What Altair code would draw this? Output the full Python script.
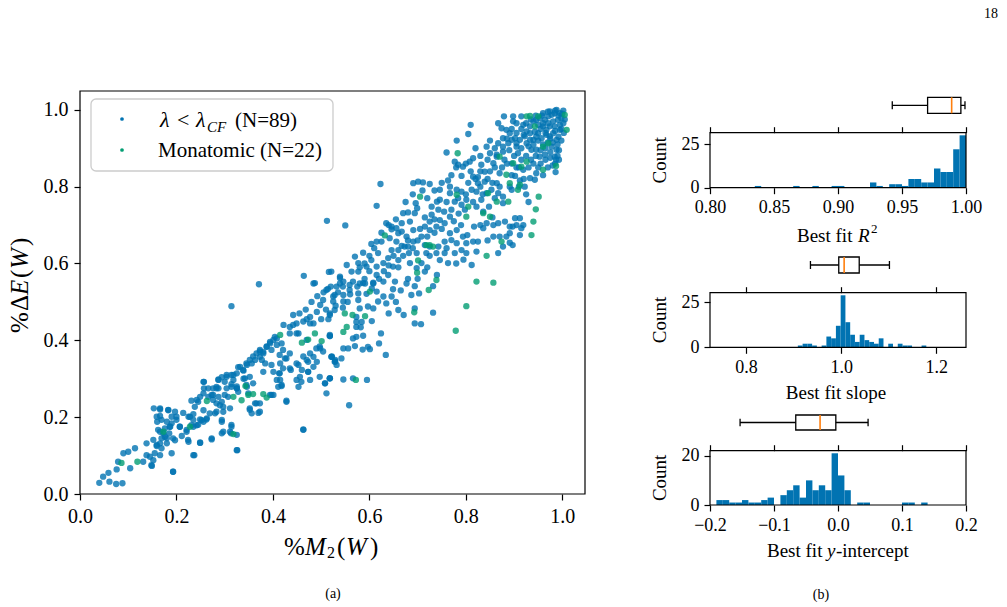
import altair as alt
import pandas as pd

W, H = 1007, 607
FONT = "Liberation Serif"
BLUE = "#0173b2"
GREEN = "#029e73"
ORANGE = "#ff7f0e"

# ---------------------------------------------------------------------------
# Scatter: (%M2(W), %dE(W)) for every window
# ---------------------------------------------------------------------------
blue_points = [
    (0.040, 0.029), (0.048, 0.045), (0.059, 0.055), (0.061, 0.032), (0.075, 0.026), (0.088, 0.028),
    (0.076, 0.064), (0.079, 0.084), (0.090, 0.106), (0.104, 0.067), (0.100, 0.110), (0.131, 0.084),
    (0.138, 0.101), (0.149, 0.073), (0.145, 0.097), (0.155, 0.106), (0.159, 0.125), (0.166, 0.132),
    (0.169, 0.145), (0.180, 0.145), (0.185, 0.158), (0.166, 0.162), (0.176, 0.171), (0.187, 0.175),
    (0.193, 0.058), (0.138, 0.132), (0.114, 0.119), (0.153, 0.223), (0.166, 0.223), (0.183, 0.218),
    (0.166, 0.203), (0.160, 0.188), (0.190, 0.201), (0.200, 0.201), (0.207, 0.175), (0.197, 0.140),
    (0.214, 0.211), (0.225, 0.201), (0.238, 0.227), (0.235, 0.208), (0.221, 0.162), (0.225, 0.136),
    (0.237, 0.101), (0.249, 0.133), (0.231, 0.179), (0.242, 0.179), (0.252, 0.192), (0.263, 0.197),
    (0.273, 0.142), (0.256, 0.218), (0.245, 0.240), (0.231, 0.243), (0.249, 0.253), (0.257, 0.275),
    (0.257, 0.292), (0.276, 0.258), (0.287, 0.298), (0.287, 0.275), (0.290, 0.231), (0.280, 0.210),
    (0.297, 0.227), (0.307, 0.253), (0.304, 0.275), (0.314, 0.286), (0.325, 0.275), (0.318, 0.310),
    (0.328, 0.330), (0.339, 0.321), (0.342, 0.301), (0.346, 0.336), (0.356, 0.340), (0.363, 0.349),
    (0.373, 0.357), (0.380, 0.370), (0.387, 0.383), (0.394, 0.396), (0.404, 0.409), (0.377, 0.349),
    (0.384, 0.340), (0.373, 0.375), (0.397, 0.375), (0.408, 0.388), (0.422, 0.440), (0.435, 0.435),
    (0.442, 0.466), (0.453, 0.418), (0.498, 0.379), (0.518, 0.411), (0.484, 0.444), (0.477, 0.461),
    (0.491, 0.474), (0.498, 0.492), (0.504, 0.505), (0.518, 0.470), (0.515, 0.455), (0.484, 0.548),
    (0.511, 0.531), (0.525, 0.514), (0.314, 0.489), (0.371, 0.546),
    (0.276, 0.275), (0.283, 0.279), (0.294, 0.304), (0.304, 0.305), (0.318, 0.297), (0.325, 0.280),
    (0.339, 0.300), (0.346, 0.279), (0.349, 0.262), (0.352, 0.223), (0.356, 0.210), (0.370, 0.211),
    (0.363, 0.236), (0.373, 0.236), (0.397, 0.258), (0.397, 0.336), (0.401, 0.318), (0.413, 0.314),
    (0.415, 0.297), (0.418, 0.281), (0.428, 0.243), (0.415, 0.340), (0.428, 0.353), (0.437, 0.323),
    (0.453, 0.336), (0.456, 0.305), (0.453, 0.279), (0.460, 0.323), (0.473, 0.318), (0.473, 0.344),
    (0.477, 0.297), (0.484, 0.357), (0.491, 0.344), (0.508, 0.288), (0.511, 0.262), (0.518, 0.301),
    (0.522, 0.357), (0.529, 0.349), (0.463, 0.168), (0.326, 0.114), (0.314, 0.175), (0.313, 0.158),
    (0.297, 0.162), (0.235, 0.175),
    (0.294, 0.188), (0.314, 0.180), (0.297, 0.214), (0.311, 0.223), (0.283, 0.236), (0.276, 0.245),
    (0.266, 0.253), (0.256, 0.262), (0.242, 0.245), (0.256, 0.292), (0.266, 0.275), (0.283, 0.275),
    (0.287, 0.297), (0.300, 0.292), (0.304, 0.310), (0.314, 0.310), (0.325, 0.314), (0.332, 0.331),
    (0.338, 0.323), (0.345, 0.340), (0.352, 0.349), (0.359, 0.358), (0.366, 0.366), (0.373, 0.371),
    (0.380, 0.366), (0.387, 0.384), (0.394, 0.392), (0.401, 0.401), (0.408, 0.405), (0.418, 0.392),
    (0.421, 0.375), (0.414, 0.362), (0.425, 0.353), (0.435, 0.366), (0.442, 0.440), (0.449, 0.444),
    (0.463, 0.449), (0.477, 0.444), (0.435, 0.418), (0.449, 0.418), (0.470, 0.401), (0.490, 0.379),
    (0.497, 0.384), (0.504, 0.371), (0.518, 0.414), (0.477, 0.366), (0.470, 0.349), (0.463, 0.358),
    (0.449, 0.340), (0.435, 0.327), (0.421, 0.327), (0.414, 0.314), (0.408, 0.297), (0.411, 0.279),
    (0.418, 0.284), (0.380, 0.318), (0.352, 0.305), (0.359, 0.288), (0.345, 0.284), (0.328, 0.266),
    (0.325, 0.275), (0.314, 0.279), (0.300, 0.258), (0.287, 0.253), (0.273, 0.258), (0.294, 0.240),
    (0.366, 0.236), (0.352, 0.219), (0.373, 0.214), (0.394, 0.258), (0.401, 0.258), (0.428, 0.240),
    (0.449, 0.297), (0.459, 0.292), (0.473, 0.318), (0.484, 0.331), (0.497, 0.305), (0.508, 0.288),
    (0.518, 0.301), (0.522, 0.358), (0.529, 0.345), (0.463, 0.167), (0.325, 0.154), (0.294, 0.193),
    (0.283, 0.214), (0.269, 0.210), (0.166, 0.220), (0.183, 0.219), (0.197, 0.214), (0.228, 0.201),
    (0.235, 0.193), (0.249, 0.194), (0.262, 0.194), (0.159, 0.201), (0.169, 0.193), (0.180, 0.188),
    (0.190, 0.184), (0.200, 0.193), (0.207, 0.175), (0.221, 0.167), (0.245, 0.180), (0.256, 0.188),
    (0.162, 0.167), (0.173, 0.158), (0.186, 0.175), (0.176, 0.149), (0.193, 0.145), (0.211, 0.151),
    (0.224, 0.141), (0.152, 0.141), (0.159, 0.128), (0.169, 0.119), (0.180, 0.132), (0.190, 0.106),
    (0.166, 0.101), (0.152, 0.088), (0.148, 0.075), (0.235, 0.101), (0.249, 0.134), (0.273, 0.145),
    (0.294, 0.158), (0.311, 0.162), (0.325, 0.114), (0.193, 0.058),
    (0.539, 0.548), (0.559, 0.531), (0.580, 0.548), (0.591, 0.548), (0.608, 0.548), (0.629, 0.553),
    (0.653, 0.553), (0.677, 0.548), (0.694, 0.541), (0.732, 0.541), (0.528, 0.518), (0.546, 0.518),
    (0.577, 0.522), (0.594, 0.521), (0.615, 0.527), (0.629, 0.514), (0.646, 0.514), (0.649, 0.533),
    (0.687, 0.518), (0.703, 0.522), (0.525, 0.501), (0.546, 0.501), (0.577, 0.505), (0.618, 0.501),
    (0.635, 0.496), (0.597, 0.488), (0.580, 0.483), (0.528, 0.479), (0.518, 0.466), (0.573, 0.461),
    (0.608, 0.483), (0.660, 0.479), (0.671, 0.466), (0.694, 0.483), (0.732, 0.472), (0.694, 0.444),
    (0.707, 0.442), (0.573, 0.448), (0.584, 0.448), (0.573, 0.435), (0.582, 0.434), (0.518, 0.411),
    (0.566, 0.405), (0.573, 0.409), (0.587, 0.412), (0.624, 0.418), (0.620, 0.392), (0.570, 0.385),
    (0.546, 0.379), (0.556, 0.379), (0.586, 0.376), (0.597, 0.383), (0.601, 0.377), (0.634, 0.362),
    (0.521, 0.357), (0.528, 0.344), (0.532, 0.336), (0.542, 0.353), (0.518, 0.301), (0.546, 0.298),
    (0.566, 0.301), (0.595, 0.297), (0.558, 0.231),
    (0.550, 0.699), (0.521, 0.579), (0.553, 0.596), (0.570, 0.618), (0.587, 0.628), (0.604, 0.651),
    (0.615, 0.657), (0.625, 0.657), (0.642, 0.666), (0.646, 0.689), (0.660, 0.679), (0.667, 0.683),
    (0.539, 0.566), (0.546, 0.553), (0.563, 0.579), (0.566, 0.553), (0.587, 0.549), (0.608, 0.550),
    (0.615, 0.592), (0.629, 0.601), (0.639, 0.614), (0.615, 0.570), (0.639, 0.570), (0.649, 0.592),
    (0.660, 0.609), (0.667, 0.646), (0.673, 0.644), (0.680, 0.644), (0.684, 0.601), (0.682, 0.627),
    (0.698, 0.588), (0.715, 0.648), (0.718, 0.627), (0.725, 0.644), (0.708, 0.601), (0.715, 0.579),
    (0.725, 0.620), (0.739, 0.627), (0.743, 0.644), (0.746, 0.609), (0.756, 0.627), (0.763, 0.601),
    (0.756, 0.657), (0.767, 0.679), (0.770, 0.661), (0.781, 0.653), (0.777, 0.627), (0.781, 0.687),
    (0.791, 0.635), (0.794, 0.670), (0.801, 0.627), (0.801, 0.653), (0.803, 0.674), (0.817, 0.696),
    (0.815, 0.657), (0.822, 0.631), (0.812, 0.596), (0.825, 0.657), (0.867, 0.627), (0.891, 0.696),
    (0.897, 0.648), (0.891, 0.679), (0.912, 0.674), (0.902, 0.718), (0.912, 0.718), (0.915, 0.692),
    (0.919, 0.700), (0.905, 0.700), (0.884, 0.670), (0.891, 0.654), (0.897, 0.696),
    (0.623, 0.807), (0.615, 0.750), (0.691, 0.809), (0.701, 0.813), (0.711, 0.811), (0.725, 0.807),
    (0.696, 0.757), (0.699, 0.744), (0.694, 0.731), (0.680, 0.733), (0.670, 0.731), (0.684, 0.709),
    (0.667, 0.705), (0.635, 0.705), (0.646, 0.696), (0.656, 0.692), (0.746, 0.792), (0.746, 0.766),
    (0.740, 0.761), (0.729, 0.748), (0.729, 0.727), (0.743, 0.740), (0.763, 0.816), (0.767, 0.800),
    (0.767, 0.783), (0.781, 0.792), (0.791, 0.787), (0.777, 0.761), (0.784, 0.770), (0.791, 0.753),
    (0.801, 0.766), (0.798, 0.740), (0.812, 0.792), (0.822, 0.787), (0.825, 0.809), (0.839, 0.839),
    (0.825, 0.825), (0.815, 0.826), (0.791, 0.828), (0.794, 0.852), (0.777, 0.865), (0.784, 0.857),
    (0.808, 0.865), (0.815, 0.874), (0.832, 0.857), (0.839, 0.813), (0.843, 0.783), (0.832, 0.766),
    (0.822, 0.748), (0.836, 0.735), (0.848, 0.748), (0.853, 0.792), (0.864, 0.809), (0.867, 0.783),
    (0.877, 0.774), (0.877, 0.757), (0.891, 0.800), (0.870, 0.835), (0.857, 0.861), (0.864, 0.878),
    (0.877, 0.891), (0.902, 0.828), (0.912, 0.816), (0.922, 0.800), (0.933, 0.822), (0.946, 0.835),
    (0.943, 0.818), (0.919, 0.844), (0.895, 0.792),
    (0.660, 0.635), (0.698, 0.627), (0.691, 0.657), (0.708, 0.670), (0.725, 0.687), (0.739, 0.696),
    (0.746, 0.713), (0.756, 0.705), (0.767, 0.722), (0.715, 0.696), (0.725, 0.709), (0.691, 0.687),
    (0.677, 0.670), (0.656, 0.657), (0.646, 0.635), (0.618, 0.627), (0.604, 0.609), (0.594, 0.592),
    (0.577, 0.579), (0.577, 0.601), (0.559, 0.544), (0.532, 0.540), (0.836, 0.692), (0.843, 0.705),
    (0.857, 0.700), (0.867, 0.705), (0.881, 0.709), (0.870, 0.670), (0.857, 0.670), (0.877, 0.644),
    (0.760, 0.889), (0.781, 0.920), (0.805, 0.937), (0.810, 0.961), (0.843, 0.904), (0.850, 0.887),
    (0.864, 0.883), (0.867, 0.965), (0.874, 0.952), (0.884, 0.948), (0.879, 0.983), (0.898, 0.970),
    (0.898, 0.983), (0.891, 0.939), (0.877, 0.926), (0.867, 0.913), (0.877, 0.904), (0.888, 0.913),
    (0.905, 0.904), (0.902, 0.926), (0.912, 0.922), (0.922, 0.931), (0.926, 0.944), (0.933, 0.957),
    (0.919, 0.961), (0.915, 0.983), (0.946, 0.974), (0.960, 0.991), (0.974, 0.996), (0.988, 1.000),
    (1.002, 0.998), (1.002, 0.965), (0.995, 0.948), (0.988, 0.922), (0.988, 0.896), (0.984, 0.878),
    (0.987, 0.870), (0.978, 0.904), (0.974, 0.931), (0.967, 0.948), (0.960, 0.957), (0.950, 0.939),
    (0.940, 0.922), (0.936, 0.896), (0.946, 0.896), (0.953, 0.878), (0.964, 0.883),
    (0.953, 0.978), (0.964, 0.974), (0.971, 0.983), (0.978, 0.987), (0.984, 0.991), (0.995, 0.991),
    (0.998, 0.978), (0.991, 0.974), (0.981, 0.970), (0.971, 0.965), (0.960, 0.965), (0.950, 0.961),
    (0.940, 0.970), (0.974, 0.957), (0.984, 0.957), (0.995, 0.961), (0.981, 0.939), (0.967, 0.935),
    (0.957, 0.926), (0.946, 0.930), (0.933, 0.922), (0.926, 0.913), (0.915, 0.900), (0.908, 0.887),
    (0.905, 0.913), (0.895, 0.922), (0.933, 0.939), (0.943, 0.943),
    (0.955, 0.950), (0.965, 0.940), (0.975, 0.925), (0.985, 0.945), (0.992, 0.930), (0.998, 0.950),
    (0.992, 0.985), (1.000, 0.990), (0.985, 0.998), (0.970, 0.995), (0.958, 0.985), (0.945, 0.985),
    (0.935, 0.975), (0.925, 0.965), (0.915, 0.950), (0.905, 0.940), (0.920, 0.935), (0.930, 0.905),
    (0.940, 0.910), (0.950, 0.920), (0.960, 0.910), (0.970, 0.915), (0.980, 0.915), (0.990, 0.910),
    (0.993, 0.895), (0.990, 0.880), (0.985, 0.860), (0.975, 0.890), (0.965, 0.900), (0.955, 0.895),
    (0.945, 0.880), (0.935, 0.870), (0.925, 0.880), (0.915, 0.870), (0.900, 0.880), (0.890, 0.895),
    (0.885, 0.925), (0.895, 0.950), (0.905, 0.965), (0.955, 0.860), (0.965, 0.870), (0.975, 0.875),
    (0.980, 0.855), (0.950, 0.850), (0.910, 0.850), (0.895, 0.860), (0.880, 0.870), (0.860, 0.900),
    (0.850, 0.920), (0.845, 0.870), (0.830, 0.880), (0.820, 0.900), (0.830, 0.840), (0.860, 0.850),
    (0.940, 0.860), (0.930, 0.850), (0.960, 0.830), (0.970, 0.850), (0.986, 0.838), (0.993, 0.870),
    (0.998, 0.920), (1.003, 0.940), (1.005, 0.975),
    (0.512, 0.711), (0.464, 0.568), (0.487, 0.549), (0.516, 0.578), (0.514, 0.534), (0.539, 0.562),
    # denser middle of the band
    (0.455, 0.470), (0.468, 0.480), (0.480, 0.500), (0.492, 0.515), (0.505, 0.525), (0.520, 0.540),
    (0.535, 0.525), (0.545, 0.540), (0.470, 0.455), (0.500, 0.455), (0.510, 0.480), (0.530, 0.490),
    (0.545, 0.485), (0.555, 0.500), (0.560, 0.520), (0.575, 0.540), (0.590, 0.560), (0.600, 0.580),
    (0.605, 0.535), (0.620, 0.560), (0.630, 0.580), (0.640, 0.595), (0.650, 0.620), (0.660, 0.590),
    (0.670, 0.620), (0.680, 0.660), (0.690, 0.640), (0.700, 0.660), (0.705, 0.690), (0.715, 0.720),
    (0.720, 0.670), (0.735, 0.680), (0.735, 0.715), (0.750, 0.690), (0.755, 0.735), (0.760, 0.760),
    (0.770, 0.740), (0.775, 0.710), (0.785, 0.730), (0.790, 0.700), (0.800, 0.780), (0.805, 0.810),
    (0.815, 0.760), (0.820, 0.820), (0.830, 0.800), (0.835, 0.780), (0.845, 0.820), (0.850, 0.840),
    (0.855, 0.810), (0.860, 0.770), (0.870, 0.800), (0.875, 0.850), (0.885, 0.860), (0.895, 0.830),
    (0.905, 0.850), (0.910, 0.800), (0.920, 0.820), (0.925, 0.780), (0.930, 0.760), (0.600, 0.620),
    (0.610, 0.640), (0.590, 0.600), (0.580, 0.590), (0.625, 0.680), (0.640, 0.700), (0.655, 0.715),
    (0.675, 0.760), (0.690, 0.780), (0.710, 0.790), (0.720, 0.770), (0.735, 0.790), (0.750, 0.810),
    (0.770, 0.830), (0.780, 0.850), (0.800, 0.860), (0.810, 0.840), (0.605, 0.450), (0.640, 0.470),
    (0.655, 0.500), (0.665, 0.530), (0.680, 0.560), (0.700, 0.560), (0.720, 0.590), (0.740, 0.570),
    (0.760, 0.640), (0.780, 0.600), (0.795, 0.610), (0.830, 0.700), (0.845, 0.660), (0.855, 0.720),
]

green_points = [
    (0.086, 0.081), (0.119, 0.084), (0.173, 0.162), (0.228, 0.175), (0.263, 0.242), (0.343, 0.281),
    (0.318, 0.253), (0.335, 0.244), (0.349, 0.258), (0.359, 0.260), (0.380, 0.260), (0.387, 0.251),
    (0.318, 0.156), (0.415, 0.414), (0.460, 0.394), (0.473, 0.402), (0.487, 0.418), (0.501, 0.398),
    (0.739, 0.557), (0.822, 0.553), (0.857, 0.550), (0.723, 0.531), (0.601, 0.527), (0.549, 0.470),
    (0.565, 0.466), (0.591, 0.463), (0.693, 0.473), (0.801, 0.489), (0.779, 0.425), (0.553, 0.435),
    (0.546, 0.422), (0.572, 0.297),
    (0.632, 0.673), (0.701, 0.608), (0.699, 0.576), (0.718, 0.648), (0.725, 0.648), (0.732, 0.644),
    (0.843, 0.620), (0.874, 0.657), (0.936, 0.674), (0.940, 0.709), (0.945, 0.741), (0.951, 0.774),
    (0.705, 0.774), (0.781, 0.779), (0.801, 0.722), (0.805, 0.748), (0.850, 0.722), (0.864, 0.761),
    (0.888, 0.761), (0.870, 0.878), (0.898, 0.861), (0.915, 0.852), (0.926, 0.865), (0.960, 0.844),
    (0.908, 0.792), (0.783, 0.887), (0.926, 0.983), (0.933, 0.984), (1.005, 0.987), (1.009, 0.948),
    (0.987, 0.854), (0.960, 0.904), (0.971, 0.913), (0.943, 0.957), (0.884, 0.831), (0.891, 0.809),
    (0.912, 0.805), (0.836, 0.731), (0.846, 0.783), (0.950, 0.983),
]

# ---------------------------------------------------------------------------
# Histograms: left bin edges and counts
# ---------------------------------------------------------------------------
r2_width = 0.005
r2_edges = [0.835, 0.865, 0.880, 0.895, 0.900, 0.925, 0.930, 0.940, 0.945, 0.950,
            0.955, 0.960, 0.965, 0.970, 0.975, 0.980, 0.985, 0.990, 0.995]
r2_counts = [1, 1, 1, 1, 1, 3, 1, 2, 2, 1, 5, 5, 3, 3, 11, 9, 9, 22, 30]

slope_width = 0.01
slope_edges = [round(0.909 + 0.01 * i, 3) for i in range(27)]
slope_counts = [1, 2, 2, 1, 0, 1, 6, 5, 12, 29, 14, 7, 3, 7, 4, 3, 2, 5, 0, 2, 0, 2, 1, 1, 0, 0, 1]

icpt_width = 0.01
icpt_edges = [round(-0.19 + 0.01 * i, 3) for i in range(33)]
icpt_counts = [2, 2, 1, 1, 2, 1, 1, 2, 3, 0, 4, 6, 8, 3, 10, 6, 8, 6, 21, 12, 6, 0,
               1, 1, 0, 0, 0, 0, 0, 1, 1, 0, 1]

# box summaries: lower whisker, Q1, median, Q3, upper whisker
r2_box = [0.9424, 0.970, 0.9888, 0.996, 0.9992]
slope_box = [0.9355, 0.995, 1.0063, 1.038, 1.1015]
icpt_box = [-0.153, -0.066, -0.028, -0.0034, 0.047]

one = pd.DataFrame({"k": [0]})


def axis_common(size):
    return dict(labelFont=FONT, labelFontSize=size, labelColor="black", tickColor="black",
                tickWidth=1.2, tickSize=6, domain=False, grid=False, title=None,
                labelFlush=False, labelOverlap=False)


def frame(x0, x1, y0, y1):
    return alt.Chart(one).mark_rect(fill="white", fillOpacity=0, stroke="black", strokeWidth=1.2).encode(
        x=alt.value(x0), x2=alt.value(x1), y=alt.value(y0), y2=alt.value(y1))


def label(text, x, y, size, angle=0, style="normal", align="center", baseline="middle"):
    return alt.Chart(one).mark_text(text=text, font=FONT, fontSize=size, angle=angle, fontStyle=style,
                                    align=align, baseline=baseline, color="black").encode(
        x=alt.value(x), y=alt.value(y))


layers = []

# ---------------------------------------------------------------------------
# (a) scatter panel
# ---------------------------------------------------------------------------
SC_L, SC_R, SC_T, SC_B = 80, 585, 91, 494
sx = alt.Scale(domain=[0, 1.047], range=[SC_L, SC_R], nice=False, zero=False)
sy = alt.Scale(domain=[0, 1.049], range=[SC_B, SC_T], nice=False, zero=False)
ticks_a = [0.0, 0.2, 0.4, 0.6, 0.8, 1.0]

blue_df = pd.DataFrame(blue_points, columns=["m2", "de"])
green_df = pd.DataFrame(green_points, columns=["m2", "de"])

layers.append(alt.Chart(blue_df).mark_circle(size=40, opacity=0.8, color=BLUE).encode(
    x=alt.X("m2:Q", scale=sx, axis=alt.Axis(orient="bottom", offset=SC_B - H, values=ticks_a,
                                            format=".1f", labelPadding=6, **axis_common(20))),
    y=alt.Y("de:Q", scale=sy, axis=alt.Axis(orient="left", offset=-SC_L, values=ticks_a,
                                            format=".1f", labelPadding=6, **axis_common(20)))))
layers.append(alt.Chart(green_df).mark_circle(size=40, opacity=0.8, color=GREEN).encode(
    x=alt.X("m2:Q", scale=sx, axis=None),
    y=alt.Y("de:Q", scale=sy, axis=None)))
layers.append(frame(SC_L, SC_R, SC_T, SC_B))

# legend
layers.append(alt.Chart(one).mark_rect(fill="white", fillOpacity=0.8, stroke="#cccccc", strokeWidth=1.3,
                                       cornerRadius=5).encode(
    x=alt.value(91), x2=alt.value(333), y=alt.value(99), y2=alt.value(171)))
layers.append(alt.Chart(one).mark_circle(size=14, opacity=1, color=BLUE).encode(
    x=alt.value(122), y=alt.value(119)))
layers.append(alt.Chart(one).mark_circle(size=14, opacity=1, color=GREEN).encode(
    x=alt.value(122), y=alt.value(150)))
layers.append(label("λ", 160, 127, 22, style="italic", align="left", baseline="alphabetic"))
layers.append(label("<", 177, 127, 22, align="left", baseline="alphabetic"))
layers.append(label("λ", 196, 127, 22, style="italic", align="left", baseline="alphabetic"))
layers.append(label("CF", 207, 132, 15, style="italic", align="left", baseline="alphabetic"))
layers.append(label("(N=89)", 235, 127, 21, align="left", baseline="alphabetic"))
layers.append(label("Monatomic (N=22)", 158, 157, 21, align="left", baseline="alphabetic"))

# x title: %M2(W), with italic symbols and a subscript
layers.append(label("%", 284, 547, 25, align="left"))
layers.append(label("M", 305, 547, 25, style="italic", align="left"))
layers.append(label("2", 327, 553, 16, align="left"))
layers.append(label("(", 337, 547, 25, align="left"))
layers.append(label("W", 346, 547, 25, style="italic", align="left"))
layers.append(label(")", 370, 547, 25, align="left"))

# y title: %dE(W), read bottom to top
layers.append(label("%", 20, 333, 25, angle=270, align="left"))
layers.append(label("Δ", 20, 311, 25, angle=270, align="left"))
layers.append(label("E", 20, 295, 25, angle=270, style="italic", align="left"))
layers.append(label("(", 20, 278, 25, angle=270, align="left"))
layers.append(label("W", 20, 269, 25, angle=270, style="italic", align="left"))
layers.append(label(")", 20, 246, 25, angle=270, align="left"))

layers.append(label("(a)", 333, 594, 14))

# ---------------------------------------------------------------------------
# (b) histogram panels with box plots above them
# ---------------------------------------------------------------------------
HX0, HX1 = 710, 966


def hist_panel(edges, width, counts, xdom, xticks, xfmt, ytop, ybot, ymax, yticks, box, box_cy, box_h):
    xs = alt.Scale(domain=xdom, range=[HX0, HX1], nice=False, zero=False)
    ys = alt.Scale(domain=[0, ymax], range=[ybot, ytop], nice=False, zero=False)
    df = pd.DataFrame({"lo": edges, "n": counts})
    df["hi"] = df["lo"] + width
    df["zero"] = 0
    df = df[df["n"] > 0]
    out = []
    out.append(alt.Chart(df).mark_rect(color=BLUE).encode(
        x=alt.X("lo:Q", scale=xs, axis=alt.Axis(orient="bottom", offset=ybot - H, values=xticks,
                                                format=xfmt, labelPadding=5, **axis_common(18))),
        x2="hi:Q",
        y=alt.Y("n:Q", scale=ys, axis=alt.Axis(orient="left", offset=-HX0, values=yticks, format="d",
                                               labelPadding=5, **axis_common(18))),
        y2="zero:Q"))
    out.append(alt.Chart(df).mark_point(opacity=0).encode(
        x=alt.X("lo:Q", scale=xs, axis=alt.Axis(orient="top", offset=-ytop, values=xticks, labels=False,
                                                **axis_common(18)))))
    out.append(frame(HX0, HX1, ytop, ybot))

    bdf = pd.DataFrame([dict(zip(["wlo", "q1", "med", "q3", "whi"], box))])
    y0, y1 = box_cy - box_h / 2, box_cy + box_h / 2
    out.append(alt.Chart(bdf).mark_rule(color="black", strokeWidth=1.3).encode(
        x=alt.X("wlo:Q", scale=xs, axis=None), x2="whi:Q", y=alt.value(box_cy)))
    for fld in ["wlo", "whi"]:
        out.append(alt.Chart(bdf).mark_rule(color="black", strokeWidth=1.3).encode(
            x=alt.X(f"{fld}:Q", scale=xs, axis=None), y=alt.value(box_cy - box_h / 4),
            y2=alt.value(box_cy + box_h / 4)))
    out.append(alt.Chart(bdf).mark_rect(fill="white", stroke="black", strokeWidth=1.3).encode(
        x=alt.X("q1:Q", scale=xs, axis=None), x2="q3:Q", y=alt.value(y0), y2=alt.value(y1)))
    out.append(alt.Chart(bdf).mark_rule(color=ORANGE, strokeWidth=1.6).encode(
        x=alt.X("med:Q", scale=xs, axis=None), y=alt.value(y0), y2=alt.value(y1)))

    out.append(label("Count", 660, (ytop + ybot) / 2, 19, angle=270))
    return out


layers += hist_panel(r2_edges, r2_width, r2_counts, [0.8, 1.0], [0.80, 0.85, 0.90, 0.95, 1.00], ".2f",
                     132.7, 187.7, 31.5, [0, 25], r2_box, 105.3, 16)
layers += hist_panel(slope_edges, slope_width, slope_counts, [0.7244, 1.2624], [0.8, 1.0, 1.2], ".1f",
                     292.7, 347.3, 30.45, [0, 25], slope_box, 265, 16)
layers += hist_panel(icpt_edges, icpt_width, icpt_counts, [-0.2, 0.2], [-0.2, -0.1, 0.0, 0.1, 0.2], ".1f",
                     450.7, 505, 22.05, [0, 20], icpt_box, 422.5, 15)

# panel x titles
layers.append(label("Best fit", 797, 236, 19, align="left"))
layers.append(label("R", 858, 236, 19, style="italic", align="left"))
layers.append(label("2", 871, 229, 13, align="left"))
layers.append(label("Best fit slope", 836, 393, 19))
layers.append(label("Best fit", 767, 551, 19, align="left"))
layers.append(label("y", 827, 551, 19, style="italic", align="left"))
layers.append(label("-intercept", 836, 551, 19, align="left"))

layers.append(label("(b)", 821, 595, 14))
layers.append(label("18", 991, 14, 14))

chart = alt.layer(*layers).resolve_scale(x="independent", y="independent").properties(
    width=W, height=H, padding=0, autosize=alt.AutoSizeParams(type="none"), background="white"
).configure_view(stroke=None)

chart.save("out.html", embed_options={"renderer": "svg", "actions": False})
